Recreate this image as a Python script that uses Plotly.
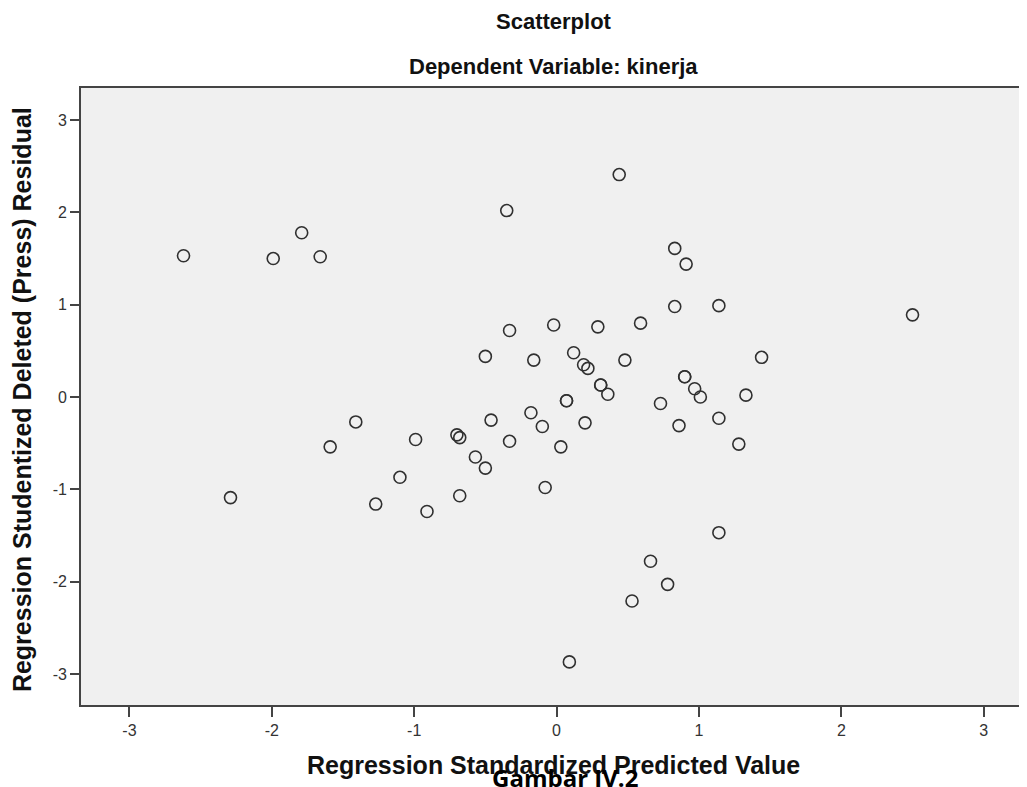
import plotly.graph_objects as go

# Regression standardized predicted value (x) and studentized deleted residual (y)
predicted = [-2.62, -2.29, -1.99, -1.79, -1.66, -1.41, -1.59, -0.99, -1.10, -1.27,
             -0.91, -0.70, -0.68, -0.68, -0.57, -0.50, -0.50, -0.46, -0.35, -0.33,
             -0.33, -0.18, -0.16, -0.10, -0.08, -0.02, 0.03, 0.07, 0.07, 0.09,
             0.12, 0.19, 0.22, 0.20, 0.29, 0.31, 0.31, 0.36, 0.44, 0.48,
             0.53, 0.59, 0.66, 0.73, 0.78, 0.83, 0.83, 0.86, 0.90, 0.90,
             0.91, 0.97, 1.01, 1.14, 1.14, 1.14, 1.28, 1.33, 1.44, 2.50]
residual = [1.53, -1.09, 1.50, 1.78, 1.52, -0.27, -0.54, -0.46, -0.87, -1.16,
            -1.24, -0.41, -0.44, -1.07, -0.65, -0.77, 0.44, -0.25, 2.02, 0.72,
            -0.48, -0.17, 0.40, -0.32, -0.98, 0.78, -0.54, -0.04, -0.04, -2.87,
            0.48, 0.35, 0.31, -0.28, 0.76, 0.13, 0.13, 0.03, 2.41, 0.40,
            -2.21, 0.80, -1.78, -0.07, -2.03, 1.61, 0.98, -0.31, 0.22, 0.22,
            1.44, 0.09, 0.00, 0.99, -0.23, -1.47, -0.51, 0.02, 0.43, 0.89]

tick_vals = [-3, -2, -1, 0, 1, 2, 3]
tick_text = ["-3", "-2", "-1", "0", "1", "2", "3"]

title_main = "Scatterplot"
title_sub = "Dependent Variable: kinerja"
x_title = "Regression Standardized Predicted Value"
y_title = "Regression Studentized Deleted (Press) Residual"
caption = "Gambar IV.2"

font_main = "Liberation Sans Narrow, Liberation Sans, Arial, sans-serif"

# figure is placed inside the page body (8px default margin)
W, H = 1019, 779
L, R, T, B = 73, 0, 80, 82
pw, ph = W - L - R, H - T - B


def px(fx):
    return (fx - L) / pw


def py(fy):
    return (H - B - fy) / ph


fig = go.Figure()
fig.add_trace(go.Scatter(
    x=predicted, y=residual, mode="markers",
    marker=dict(symbol="circle-open", size=12, color="#303030",
                line=dict(width=1.6, color="#303030")),
    showlegend=False, hoverinfo="x+y",
))

axis_common = dict(
    showgrid=False, zeroline=False,
    showline=True, linecolor="#444444", linewidth=1.6, mirror=True,
    ticks="outside", tickcolor="#444444", tickwidth=1.5,
    tickvals=tick_vals, ticktext=tick_text,
    tickfont=dict(family=font_main, size=16, color="#333333"),
)

fig.update_layout(
    width=W, height=H,
    margin=dict(l=L, r=R, t=T, b=B),
    paper_bgcolor="white",
    plot_bgcolor="#F0F0F0",
    xaxis=dict(range=[-3.34, 3.29], ticklen=10, **axis_common),
    yaxis=dict(range=[-3.337, 3.348], ticklen=9, **axis_common),
    font=dict(family=font_main, color="#000000"),
)

title_font = dict(family=font_main, size=22, color="#111111")
axis_title_font = dict(family=font_main, size=25, color="#111111")
fig.add_annotation(text="<b>%s</b>" % title_main, xref="paper", yref="paper",
                   x=px(547), y=py(13.5), showarrow=False,
                   xanchor="center", yanchor="middle", font=title_font)
fig.add_annotation(text="<b>%s</b>" % title_sub, xref="paper", yref="paper",
                   x=px(547), y=py(58), showarrow=False,
                   xanchor="center", yanchor="middle", font=title_font)
fig.add_annotation(text="<b>%s</b>" % x_title, xref="paper", yref="paper",
                   x=px(547), y=py(757.5), showarrow=False,
                   xanchor="center", yanchor="middle", font=axis_title_font)
fig.add_annotation(text="<b>%s</b>" % y_title, xref="paper", yref="paper",
                   x=px(14), y=py(392), showarrow=False,
                   textangle=-90, xanchor="center", yanchor="middle", font=axis_title_font)
fig.add_annotation(text="<b>%s</b>" % caption, xref="paper", yref="paper",
                   x=px(558), y=py(769), showarrow=False,
                   xanchor="center", yanchor="middle",
                   font=dict(family="Open Sans, Lato, sans-serif", size=24, color="#000000"))

fig.write_html("out.html")
